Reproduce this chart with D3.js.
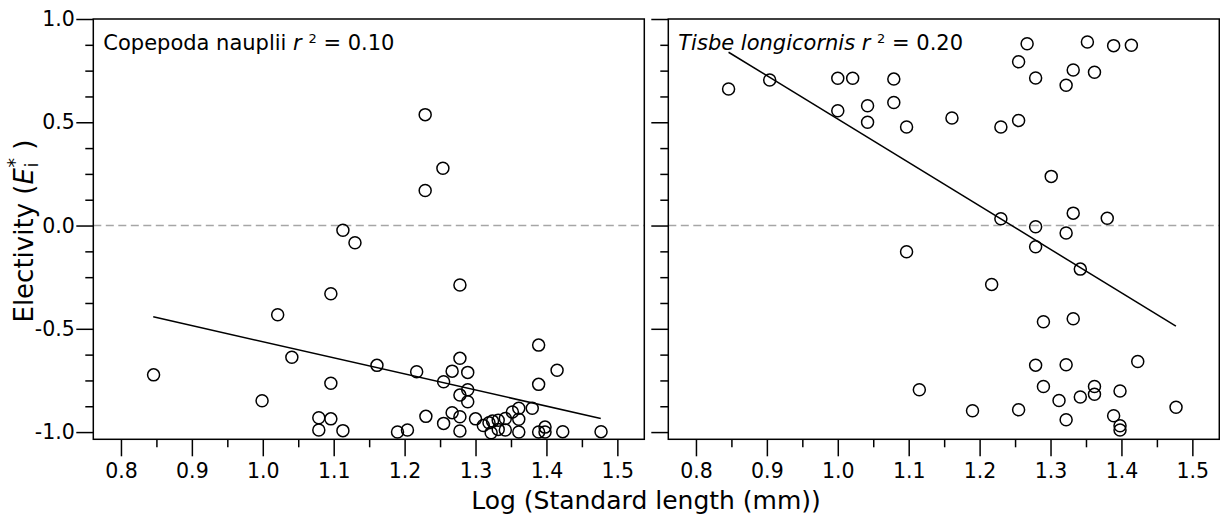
<!DOCTYPE html>
<html>
<head>
<meta charset="utf-8">
<script src="https://cdn.jsdelivr.net/npm/d3@7"></script>
<style>
  body { margin: 0; background: #fff; }
  svg text { font-family: "DejaVu Sans", Verdana, sans-serif; fill: #000; }
</style>
</head>
<body>
<div id="chart"></div>
<script>
// tick values
const xTicks = [0.8, 0.9, 1.0, 1.1, 1.2, 1.3, 1.4, 1.5];
const yTicks = [-1.0, -0.5, 0.0, 0.5, 1.0];

// Copepoda nauplii panel
const naupliiX = [1.229, 1.254, 1.229, 1.113, 1.130, 1.096, 1.278, 1.021,
  0.846, 1.041, 0.999, 1.096, 1.079, 1.079, 1.096, 1.113, 1.161, 1.217, 1.190, 1.204,
  1.230, 1.255, 1.255, 1.267, 1.278, 1.289, 1.289, 1.278, 1.289, 1.267, 1.278, 1.278,
  1.300, 1.311, 1.319, 1.324, 1.322, 1.332, 1.332, 1.342, 1.342, 1.352, 1.361, 1.361,
  1.361, 1.380, 1.389, 1.389, 1.389, 1.398, 1.398, 1.415, 1.423, 1.477];
const naupliiY = [0.537, 0.277, 0.170, -0.023, -0.083, -0.330, -0.288, -0.432,
  -0.723, -0.638, -0.848, -0.764, -0.931, -0.990, -0.936, -0.993, -0.677, -0.708, -1.0, -0.990,
  -0.924, -0.756, -0.958, -0.705, -0.643, -0.711, -0.795, -0.821, -0.853, -0.906, -0.926, -0.995,
  -0.936, -0.968, -0.955, -0.947, -1.003, -0.943, -0.987, -0.934, -0.990, -0.903, -0.885, -0.938,
  -1.0, -0.885, -0.579, -0.769, -1.0, -0.976, -1.0, -0.701, -0.998, -0.998];
const naupliiFit = [[0.8455, -0.442], [1.4766, -0.934]];

// Tisbe longicornis panel
const tisbeX = [0.846, 0.904, 1.000, 1.021, 1.079, 1.000, 1.042, 1.079, 1.267, 1.255,
  1.279, 1.352, 1.389, 1.414, 1.332, 1.362, 1.322, 1.042, 1.097, 1.161, 1.230, 1.255,
  1.301, 1.230, 1.332, 1.380, 1.279, 1.322, 1.279, 1.097, 1.342, 1.217, 1.290, 1.332,
  1.115, 1.190, 1.255, 1.279, 1.322, 1.423, 1.290, 1.312, 1.322, 1.342, 1.362, 1.362,
  1.398, 1.389, 1.398, 1.398, 1.477];
const tisbeY = [0.661, 0.705, 0.713, 0.713, 0.709, 0.556, 0.580, 0.596, 0.880, 0.793,
  0.714, 0.889, 0.871, 0.873, 0.753, 0.742, 0.679, 0.500, 0.477, 0.521, 0.477, 0.509,
  0.238, 0.033, 0.060, 0.035, -0.006, -0.036, -0.103, -0.127, -0.211, -0.285, -0.466, -0.451,
  -0.795, -0.897, -0.892, -0.676, -0.674, -0.658, -0.779, -0.847, -0.940, -0.830, -0.779, -0.817,
  -0.801, -0.921, -0.969, -0.990, -0.880];
const tisbeFit = [[0.846, 0.839], [1.4768, -0.487]];

const width = 1220;
const height = 518;
const panelW = 551;
const plotTop = 19, plotBottom = 439.3;

// plain hyphen for negatives, like the original figure
const fmt = d => d3.format('.1f')(d).replace('\u2212', '-');

const svg = d3.select('#chart')
  .append('svg')
  .attr('width', width)
  .attr('height', height);

const y = d3.scaleLinear().domain([-1.035, 1.0]).range([plotBottom, plotTop]);

function drawPanel(left, xs, ys, fit, showLabels, label) {
  const x = d3.scaleLinear().domain([0.761, 1.538]).range([left, left + panelW]);
  const g = svg.append('g');

  // zero reference line
  g.append('line')
    .attr('x1', left).attr('x2', left + panelW)
    .attr('y1', y(0)).attr('y2', y(0))
    .attr('stroke', '#a6a6a6')
    .attr('stroke-width', 1.5)
    .attr('stroke-dasharray', '8,4.5');

  // bottom axis: major + minor ticks
  const xAxis = d3.axisBottom(x).tickValues(xTicks).tickSize(17).tickPadding(7)
    .tickFormat(fmt);
  const xMinor = d3.axisBottom(x).tickValues(d3.range(0.85, 1.5, 0.1)).tickSize(8).tickFormat('');
  g.append('g').attr('transform', 'translate(0,' + plotBottom + ')').call(xMinor);
  g.append('g').attr('transform', 'translate(0,' + plotBottom + ')').call(xAxis)
    .selectAll('text').style('font-size', '20.5px');

  // left axis
  const yAxis = d3.axisLeft(y).tickValues(yTicks).tickSize(17).tickPadding(1.5)
    .tickFormat(showLabels ? fmt : '');
  const yMinor = d3.axisLeft(y).tickValues([-0.875, -0.75, -0.625, -0.375, -0.25, -0.125,
    0.125, 0.25, 0.375, 0.625, 0.75, 0.875]).tickSize(8).tickFormat('');
  g.append('g').attr('transform', 'translate(' + left + ',0)').call(yMinor);
  g.append('g').attr('transform', 'translate(' + left + ',0)').call(yAxis)
    .selectAll('text').style('font-size', '20.5px');

  g.selectAll('.domain').remove();
  g.selectAll('.tick line').attr('stroke', '#000').attr('stroke-width', 1.5);

  // frame
  g.append('rect')
    .attr('x', left).attr('y', plotTop)
    .attr('width', panelW).attr('height', plotBottom - plotTop)
    .attr('fill', 'none')
    .attr('stroke', '#000')
    .attr('stroke-width', 1.5);

  // fitted line
  g.append('line')
    .attr('x1', x(fit[0][0])).attr('y1', y(fit[0][1]))
    .attr('x2', x(fit[1][0])).attr('y2', y(fit[1][1]))
    .attr('stroke', '#000')
    .attr('stroke-width', 1.5);

  // points
  g.selectAll('circle.pt')
    .data(xs.map((v, i) => [v, ys[i]]))
    .enter()
    .append('circle')
    .attr('class', 'pt')
    .attr('cx', d => x(d[0]))
    .attr('cy', d => y(d[1]))
    .attr('r', 6)
    .attr('fill', 'none')
    .attr('stroke', '#000')
    .attr('stroke-width', 1.5);

  // label with r squared
  const t = g.append('text')
    .attr('x', left + 10)
    .attr('y', 50)
    .style('font-size', '21px');
  t.append('tspan').text(label.name).style('font-style', label.italic ? 'italic' : 'normal');
  t.append('tspan').text(' r').style('font-style', 'italic');
  t.append('tspan').text(' ');
  t.append('tspan').text('2').attr('dy', -7).style('font-size', '13px');
  t.append('tspan').text(' = ' + label.r2).attr('dy', 7);
}

drawPanel(93.3, naupliiX, naupliiY, naupliiFit, true, {name: 'Copepoda nauplii', italic: false, r2: '0.10'});
drawPanel(668.3, tisbeX, tisbeY, tisbeFit, false, {name: 'Tisbe longicornis', italic: true, r2: '0.20'});

// axis titles
svg.append('text')
  .attr('x', 646)
  .attr('y', 509)
  .attr('text-anchor', 'middle')
  .style('font-size', '25px')
  .text('Log (Standard length (mm))');

const yt = svg.append('text')
  .attr('transform', 'translate(33,' + 231 + ') rotate(-90)')
  .attr('text-anchor', 'middle')
  .style('font-size', '26px');
yt.append('tspan').text('Electivity (');
yt.append('tspan').text('E').style('font-style', 'italic');
yt.append('tspan').text('i').attr('dx', 1).attr('dy', 5).style('font-size', '17px');
yt.append('tspan').text('*').attr('dx', -5).attr('dy', -17).style('font-size', '19px');
yt.append('tspan').text(' )').attr('dy', 12);
</script>
</body>
</html>
